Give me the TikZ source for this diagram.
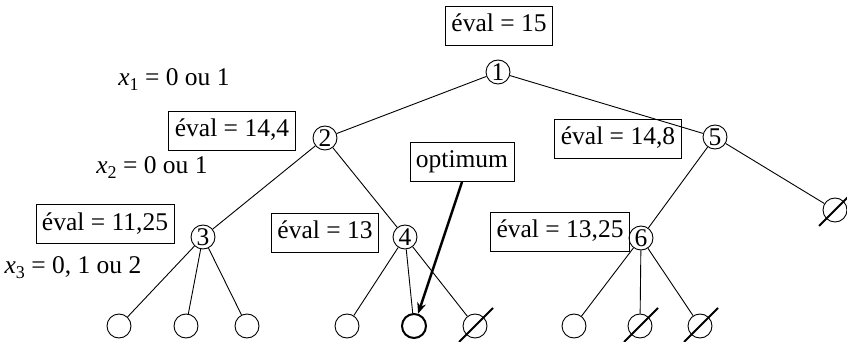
\documentclass[tikz,border=0pt]{standalone}
\usepackage{fontspec}
\setmainfont{Liberation Serif}
\usetikzlibrary{arrows.meta}
\begin{document}
\begin{tikzpicture}[x=1pt,y=-1pt,
  every node/.style={font=\fontsize{25.5}{30}\selectfont},
  evalbox/.style={draw, line width=0.9pt, inner xsep=6pt, inner ysep=0pt,
    minimum height=39pt, text height=17pt, text depth=5pt},
  vertex/.style={draw, circle, minimum size=24pt, inner sep=0pt, line width=0.9pt},
  bestleaf/.style={vertex, line width=2pt},
  edge/.style={line width=0.9pt},
  cut/.style={line width=1.8pt},
  varlabel/.style={inner sep=0pt}
]
\useasboundingbox (0,0) rectangle (847,342);

% internal nodes
\node[vertex] (n1) at (498,72) {1};
\node[vertex] (n2) at (325,138) {2};
\node[vertex] (n5) at (715,137) {5};
\node[vertex] (n3) at (203,237) {3};
\node[vertex] (n4) at (405,237) {4};
\node[vertex] (n6) at (641,238) {6};
\node[vertex] (n7) at (835,210) {};

% leaves
\node[vertex] (a1) at (119,326) {};
\node[vertex] (a2) at (186,326) {};
\node[vertex] (a3) at (247,326) {};
\node[vertex] (b1) at (347,326) {};
\node[bestleaf] (b2) at (414,326) {};
\node[vertex] (b3) at (475,326) {};
\node[vertex] (c1) at (574,326) {};
\node[vertex] (c2) at (640,326) {};
\node[vertex] (c3) at (700,326) {};

% bound boxes
\node[evalbox] (e1) at (499,26) {éval = 15};
\node[evalbox] (e2) at (232,131) {éval = 14,4};
\node[evalbox] (e5) at (618,139) {éval = 14,8};
\node[evalbox] (e3) at (105,224) {éval = 11,25};
\node[evalbox] (e4) at (325,233) {éval = 13};
\node[evalbox] (e6) at (560,232) {éval = 13,25};
\node[evalbox] (opt) at (462,162) {optimum};

% variable labels
\node[varlabel] (v1) at (174,80) {{\itshape x}\raisebox{-5pt}{\fontsize{18}{18}\selectfont 1} = 0 ou 1};
\node[varlabel] (v2) at (152,168) {{\itshape x}\raisebox{-5pt}{\fontsize{18}{18}\selectfont 2} = 0 ou 1};
\node[varlabel] (v3) at (73,268) {{\itshape x}\raisebox{-5pt}{\fontsize{18}{18}\selectfont 3} = 0, 1 ou 2};

% branches
\draw[edge] (n1) -- (n2);
\draw[edge] (n1) -- (n5);
\draw[edge] (n2) -- (n3);
\draw[edge] (n2) -- (n4);
\draw[edge] (n5) -- (n6);
\draw[edge] (n5) -- (n7);
\draw[edge] (n3) -- (a1);
\draw[edge] (n3) -- (a2);
\draw[edge] (n3) -- (a3);
\draw[edge] (n4) -- (b1);
\draw[edge] (n4) -- (b2);
\draw[edge] (n4) -- (b3);
\draw[edge] (n6) -- (c1);
\draw[edge] (n6) -- (c2);
\draw[edge] (n6) -- (c3);

% pruned nodes
\foreach \p in {b3,c2,c3,n7}
  \draw[cut] (\p.center) ++(-16,16) -- ++(34,-34);

% pointer to the optimum
\draw[line width=2.4pt, -{Stealth[length=11pt,width=9pt]}] (opt.south) -- (b2);
\end{tikzpicture}
\end{document}
